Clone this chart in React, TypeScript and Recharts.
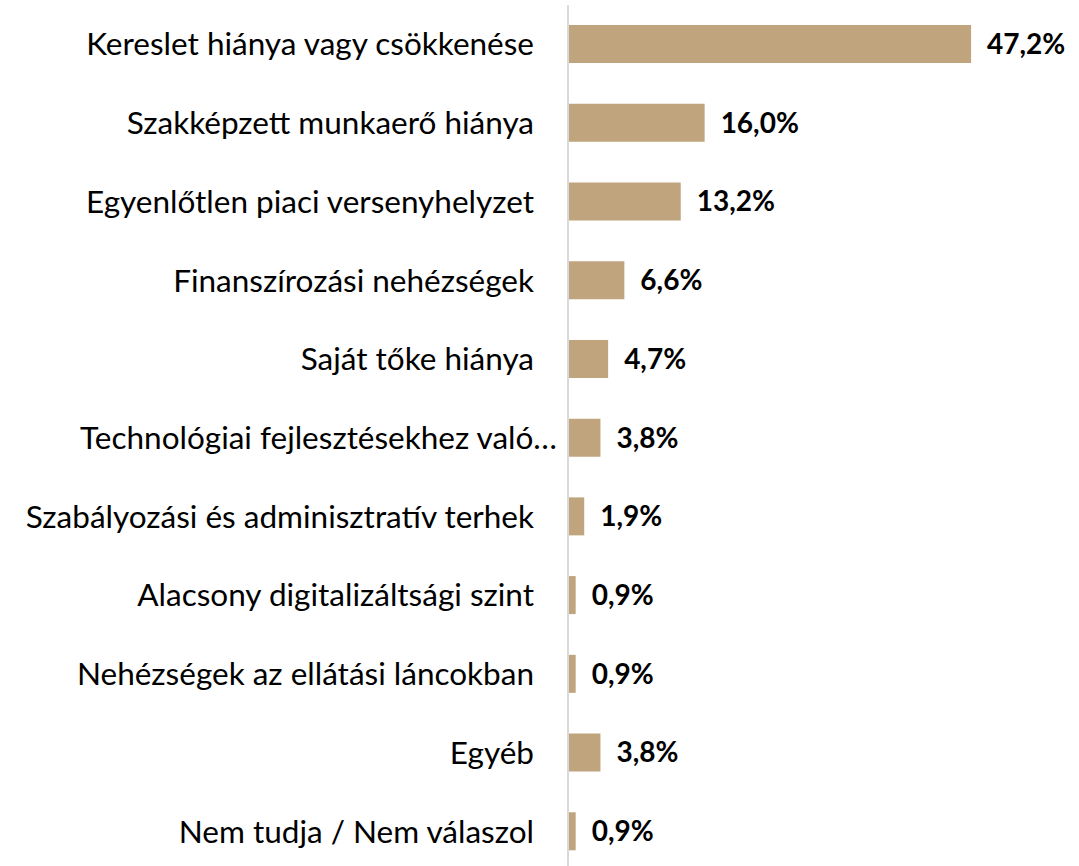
import { BarChart, Bar, XAxis, YAxis, LabelList } from "recharts";

const categories = [
  "Kereslet hiánya vagy csökkenése",
  "Szakképzett munkaerő hiánya",
  "Egyenlőtlen piaci versenyhelyzet",
  "Finanszírozási nehézségek",
  "Saját tőke hiánya",
  "Technológiai fejlesztésekhez való…",
  "Szabályozási és adminisztratív terhek",
  "Alacsony digitalizáltsági szint",
  "Nehézségek az ellátási láncokban",
  "Egyéb",
  "Nem tudja / Nem válaszol",
];

const shares = [47.2, 16.0, 13.2, 6.6, 4.7, 3.8, 1.9, 0.9, 0.9, 3.8, 0.9];

const data = categories.map((name, i) => ({ name, value: shares[i] }));

const FONT = "Lato, 'Noto Sans', sans-serif";

const fmt = (v: any) => `${Number(v).toFixed(1).replace(".", ",")}%`;

// Excel lets the truncated label run a bit closer to the axis
const CategoryTick = (props: any) => {
  const { x, y, payload } = props;
  const cut = String(payload.value).endsWith("…");
  return (
    <text
      x={x + (cut ? 23 : 0)}
      y={y}
      dy="0.35em"
      textAnchor="end"
      fill="#000"
      fontSize={31.5}
      fontFamily={FONT}
    >
      {payload.value}
    </text>
  );
};

const App = () => {
  return (
    <div
      style={{
        position: "absolute",
        left: 0,
        top: 0,
        width: 1079,
        height: 866,
        overflow: "hidden",
        background: "#fff",
      }}
    >
      <BarChart
        width={1079}
        height={871}
        data={data}
        layout="vertical"
        margin={{ top: 5, right: 84, bottom: 0, left: 0 }}
      >
        <XAxis type="number" domain={[0, 50]} hide />
        <YAxis
          type="category"
          dataKey="name"
          width={568}
          axisLine={{ stroke: "#D9D9D9", strokeWidth: 2 }}
          tickLine={false}
          tickMargin={28}
          interval={0}
          tick={<CategoryTick />}
        />
        <Bar dataKey="value" fill="#C0A47E" barSize={38} isAnimationActive={false}>
          <LabelList
            dataKey="value"
            position="right"
            offset={16}
            formatter={fmt}
            style={{ fill: "#000", fontSize: 28, fontWeight: 700, fontFamily: FONT }}
          />
        </Bar>
      </BarChart>
    </div>
  );
};

export default App;
